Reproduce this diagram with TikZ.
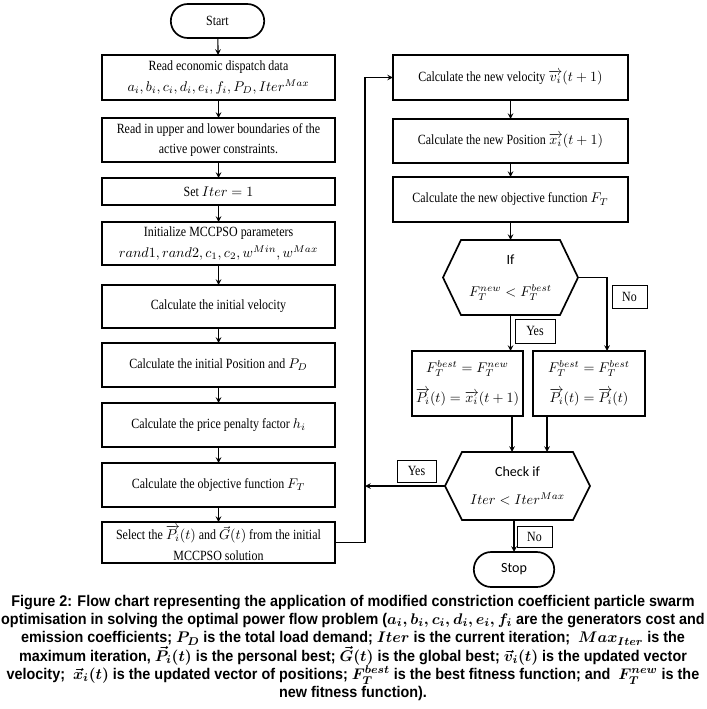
\documentclass[tikz,border=0pt]{standalone}
\usepackage{amsmath}
\usepackage{fontspec}
\setmainfont{Liberation Serif}[FakeStretch=0.85]
\newfontfamily\capfont{Liberation Sans}[FakeStretch=0.93]
\newfontfamily\decfont{Carlito}
\usetikzlibrary{positioning, calc, shapes.misc, arrows}
\tikzset{
	flowbox/.style={draw, line width=1.2pt, align=center, inner sep=2pt, outer sep=0pt,
		font=\fontsize{10}{14.5}\selectfont}
}
\tikzset{
	termbox/.style={rounded rectangle, draw, line width=1.2pt, inner sep=2pt, outer sep=0pt,
		font=\fontsize{10}{14.5}\selectfont}
}
\tikzset{
	decbox/.style={align=center, inner sep=0pt, outer sep=0pt, font=\fontsize{10}{14}\selectfont}
}
\tikzset{
	tagbox/.style={draw, line width=0.5pt, inner sep=1pt, font=\fontsize{10}{11}\selectfont}
}
\newcommand{\hexa}[2]{\draw[line width=1.2pt] ([xshift=#2]#1.north west) -- ([xshift=-#2]#1.north east)
	-- (#1.east) -- ([xshift=-#2]#1.south east) -- ([xshift=#2]#1.south west) -- (#1.west) -- cycle;}

\begin{document}
\begin{tikzpicture}[>=stealth, x=0.025cm, y=-0.025cm]
      \useasboundingbox (0,0) rectangle (707,709);

      % left column
      \node[termbox, minimum width=2.475cm, minimum height=0.85cm] (start) at (217.5,21) {Start};
      \node[flowbox, minimum width=5.825cm, minimum height=1.125cm] (read) at (218.5,77.5)
        {Read economic dispatch data\\ $a_i, b_i, c_i, d_i, e_i, f_i, P_D, Iter^{Max}$};
      \node[flowbox, minimum width=5.825cm, minimum height=1.1cm] (bounds) at (218.5,140)
        {Read in upper and lower boundaries of the\\ active power constraints.};
      \node[flowbox, minimum width=5.825cm, minimum height=0.675cm] (setit) at (218.5,191.5)
        {Set $Iter = 1$};
      \node[flowbox, minimum width=5.825cm, minimum height=1.075cm] (init) at (218.5,243.5)
        {Initialize MCCPSO parameters\\ $rand1, rand2, c_1, c_2, w^{Min}, w^{Max}$};
      \node[flowbox, minimum width=5.825cm, minimum height=1.075cm] (vel0) at (218.5,306.5)
        {Calculate the initial velocity};
      \node[flowbox, minimum width=5.825cm, minimum height=1.1cm] (pos0) at (218.5,365)
        {Calculate the initial Position and $P_D$};
      \node[flowbox, minimum width=5.825cm, minimum height=1.1cm] (pen) at (218.5,425)
        {Calculate the price penalty factor $h_i$};
      \node[flowbox, minimum width=5.825cm, minimum height=1.1cm] (obj0) at (218.5,485)
        {Calculate the objective function $F_T$};
      \node[flowbox, minimum width=5.825cm, minimum height=0.975cm] (sel) at (218.5,542.5)
        {Select the $\overrightarrow{P_i}(t)$ and $\vec{G}(t)$ from the initial\\ MCCPSO solution};

      \draw[thick, ->] (start) -- (read);
      \draw[thick, ->] (read) -- (bounds);
      \draw[thick, ->] (bounds) -- (setit);
      \draw[thick, ->] (setit) -- (init);
      \draw[thick, ->] (init) -- (vel0);
      \draw[thick, ->] (vel0) -- (pos0);
      \draw[thick, ->] (pos0) -- (pen);
      \draw[thick, ->] (pen) -- (obj0);
      \draw[thick, ->] (obj0) -- (sel);

      % right column
      \node[flowbox, minimum width=5.875cm, minimum height=1.125cm] (vel) at (510.5,77.5)
        {Calculate the new velocity $\overrightarrow{v_i}(t+1)$};
      \node[flowbox, minimum width=5.875cm, minimum height=1.1cm] (pos) at (510.5,141)
        {Calculate the new Position $\overrightarrow{x_i}(t+1)$};
      \node[flowbox, minimum width=5.875cm, minimum height=1.125cm] (obj) at (510.5,199.5)
        {Calculate the new objective function $F_T$};
      \node[decbox, minimum width=3.375cm, minimum height=1.875cm] (ifbest) at (510.5,277.5)
        {{\decfont If}\\[9pt] $F_T^{new} < F_T^{best}$};
      \hexa{ifbest}{0.45cm}
      \node[flowbox, minimum width=2.775cm, minimum height=1.625cm] (upd) at (467.5,383.5)
        {$F_T^{best} = F_T^{new}$\\[7pt] $\overrightarrow{P_i}(t) = \overrightarrow{x_i}(t+1)$};
      \node[flowbox, minimum width=2.8cm, minimum height=1.625cm] (keep) at (589,383.5)
        {$F_T^{best} = F_T^{best}$\\[7pt] $\overrightarrow{P_i}(t) = \overrightarrow{P_i}(t)$};
      \node[decbox, minimum width=3.625cm, minimum height=1.7cm] (chk) at (517.5,486)
        {{\decfont Check if}\\[6pt] $Iter < Iter^{Max}$};
      \hexa{chk}{0.425cm}
      \node[termbox, minimum width=2.15cm, minimum height=0.875cm] (stop) at (514,569.5)
        {{\decfont Stop}};

      \node[tagbox, minimum width=0.875cm, minimum height=0.575cm] (no1) at (629.5,296.5) {No};
      \node[tagbox, minimum width=1.0cm, minimum height=0.6cm] (yes1) at (535,331) {Yes};
      \node[tagbox, minimum width=0.975cm, minimum height=0.55cm] (yes2) at (416.5,471) {Yes};
      \node[tagbox, minimum width=0.875cm, minimum height=0.525cm] (no2) at (534.5,536.5) {No};

      \coordinate (loop) at (365,542.5);
      \coordinate (nox) at (607,0);
      \coordinate (upx) at (512,0);
      \coordinate (keepx) at (547,0);

      \draw[thick, ->] (vel) -- (pos);
      \draw[thick, ->] (pos) -- (obj);
      \draw[thick, ->] (obj) -- (ifbest);
      \draw[thick, ->] (ifbest.south) -- (ifbest.south |- upd.north);
      \draw[thick, ->] (ifbest.east) -| (nox |- keep.north);
      \draw[thick, ->] (upx |- upd.south) -- (upx |- chk.north);
      \draw[thick, ->] (keepx |- keep.south) -- (keepx |- chk.north);
      \draw[thick, ->] (stop.north |- chk.south) -- (stop.north);

      % loop back for the next iteration
      \draw[thick] (sel.east) -- (loop);
      \draw[thick, ->] (loop) |- (vel.west);
      \draw[thick, ->] (chk.west) -- (chk.west -| loop);

      \node[align=center, font=\capfont\bfseries\boldmath\fontsize{11}{13}\selectfont] (caption) at (353,648)
        {Figure 2: Flow chart representing the application of modified constriction coefficient particle swarm\\
         optimisation in solving the optimal power flow problem ($a_i, b_i, c_i, d_i, e_i, f_i$ are the generators cost and\\
         emission coefficients; $P_D$ is the total load demand; $Iter$ is the current iteration;\ \ $Max_{Iter}$ is the\\
         maximum iteration, $\vec{P}_i(t)$ is the personal best; $\vec{G}(t)$ is the global best; $\vec{v}_i(t)$ is the updated vector\\
         velocity;\ \ $\vec{x}_i(t)$ is the updated vector of positions; $F_T^{best}$ is the best fitness function; and\ \ $F_T^{new}$ is the\\
         new fitness function).};
    \end{tikzpicture}
\end{document}
